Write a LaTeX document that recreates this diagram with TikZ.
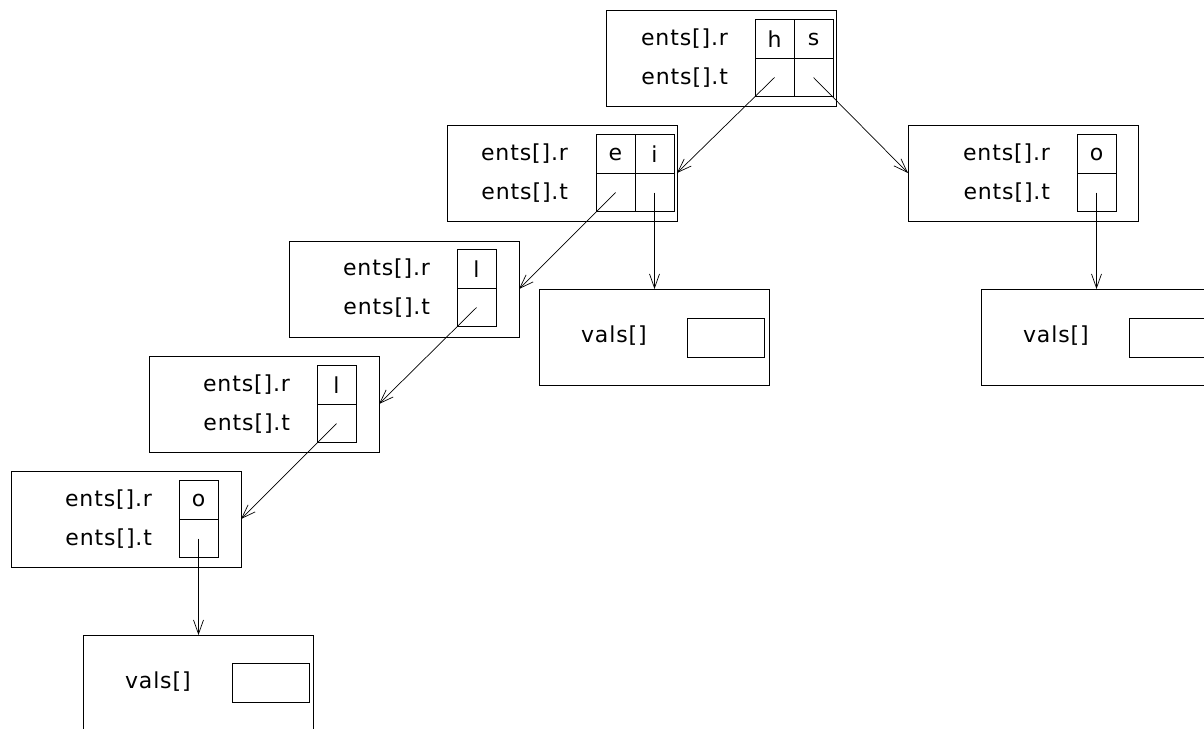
\documentclass[tikz,border=0pt]{standalone}
\usepackage{fontspec}
\setmainfont{DejaVu Sans}[LetterSpace=4]
\usetikzlibrary{arrows.meta}
\begin{document}
\begin{tikzpicture}[x=1pt,y=-1pt,
  every node/.style={inner sep=0pt, outer sep=0pt},
  box/.style={draw, line width=0.9pt, minimum width=230pt, minimum height=96pt},
  cell/.style={draw, line width=0.9pt, minimum width=39pt, minimum height=38.5pt, font=\fontsize{22}{26}\selectfont},
  lbl/.style={anchor=east, font=\fontsize{22}{26}\selectfont},
  vlbl/.style={anchor=west, font=\fontsize{22}{26}\selectfont},
  vrect/.style={draw, line width=0.9pt, minimum width=77pt, minimum height=39pt},
  ptr/.style={line width=0.7pt, -{Straight Barb[length=14pt,width=10pt,line width=0.7pt]}}
]
\useasboundingbox (0,0) rectangle (1204,728);
\clip (0,0) rectangle (1204,728);

% top box (h s)
\node[box] (T) at (721,58) {};
\node[cell] (Th) at (774.5,39) {h};
\node[cell] (Ts) at (813.5,39) {s};
\node[cell] (Tht) at (774.5,77.5) {};
\node[cell] (Tst) at (813.5,77.5) {};
\node[lbl] (Tr) at (728,39) {ents[].r};
\node[lbl] (Tt) at (728,77.5) {ents[].t};

% box e i
\node[box] (E) at (562,173) {};
\node[cell] (Ee) at (615.5,154) {e};
\node[cell] (Ei) at (654.5,154) {i};
\node[cell] (Eet) at (615.5,192.5) {};
\node[cell] (Eit) at (654.5,192.5) {};
\node[lbl] (Er) at (568,154) {ents[].r};
\node[lbl] (Et) at (568,192.5) {ents[].t};

% box s -> o
\node[box] (S) at (1023,173) {};
\node[cell] (So) at (1096.5,154) {o};
\node[cell] (Sot) at (1096.5,192.5) {};
\node[lbl] (Sr) at (1050,154) {ents[].r};
\node[lbl] (St) at (1050,192.5) {ents[].t};

% box l (1)
\node[box] (L1) at (404,289) {};
\node[cell] (L1l) at (476.5,269) {l};
\node[cell] (L1t) at (476.5,307.5) {};
\node[lbl] (L1r) at (430,269) {ents[].r};
\node[lbl] (L1tt) at (430,307.5) {ents[].t};

% box l (2)
\node[box] (L2) at (264,404) {};
\node[cell] (L2l) at (336.5,385) {l};
\node[cell] (L2t) at (336.5,423.5) {};
\node[lbl] (L2r) at (290,385) {ents[].r};
\node[lbl] (L2tt) at (290,423.5) {ents[].t};

% box o
\node[box] (O) at (126,519) {};
\node[cell] (Oo) at (198.5,500) {o};
\node[cell] (Ot) at (198.5,538.5) {};
\node[lbl] (Or) at (152,500) {ents[].r};
\node[lbl] (Ott) at (152,538.5) {ents[].t};

% vals boxes
\node[box] (V1) at (654.5,337) {};
\node[vrect] (V1r) at (725.5,337.5) {};
\node[vlbl] (V1l) at (581,336) {vals[]};

\node[box] (V2) at (1096.5,337) {};
\node[vrect] (V2r) at (1167.5,337.5) {};
\node[vlbl] (V2l) at (1023,336) {vals[]};

\node[box] (V3) at (198.5,683) {};
\node[vrect] (V3r) at (270.5,682.5) {};
\node[vlbl] (V3l) at (125,682) {vals[]};

% pointers
\draw[ptr] (Tht.center) -- (E.east);
\draw[ptr] (Tst.center) -- (S.west);
\draw[ptr] (Eet.center) -- (L1.east);
\draw[ptr] (Eit.center) -- (V1.north);
\draw[ptr] (Sot.center) -- (V2.north);
\draw[ptr] (L1t.center) -- (L2.east);
\draw[ptr] (L2t.center) -- (O.east);
\draw[ptr] (Ot.center) -- (V3.north);
\end{tikzpicture}
\end{document}
